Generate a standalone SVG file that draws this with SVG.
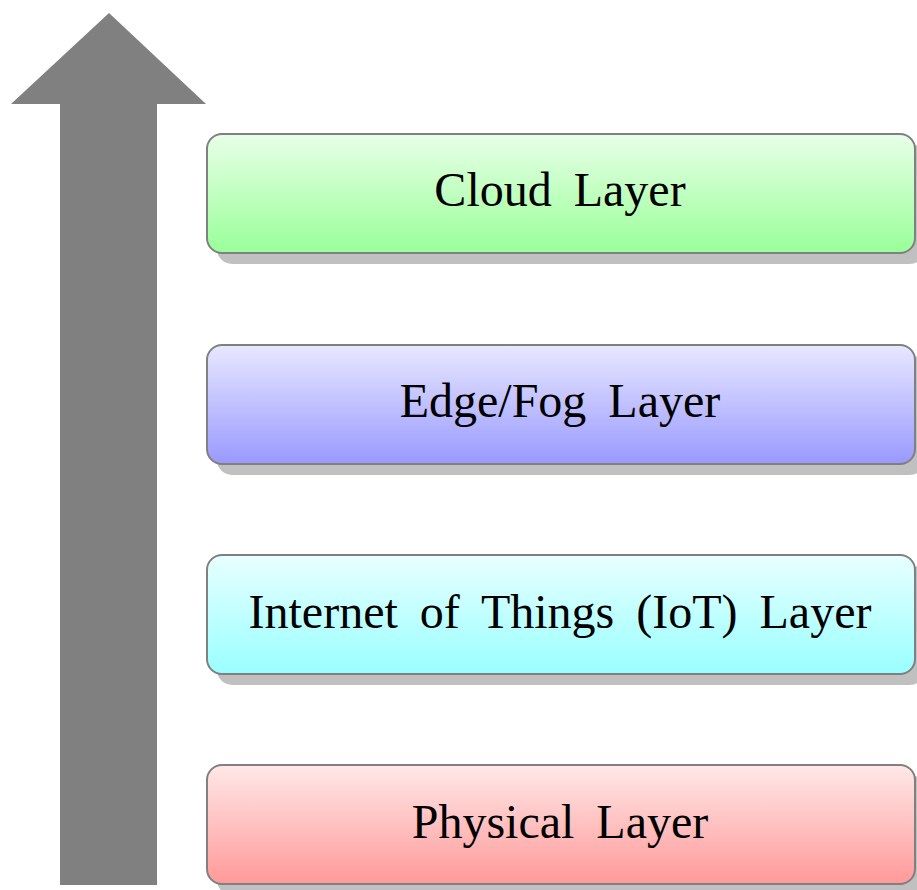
<svg xmlns="http://www.w3.org/2000/svg" width="917" height="890" viewBox="0 0 917 890">
<defs>
<linearGradient id="gGreen" x1="0" y1="0" x2="0" y2="1"><stop offset="0" stop-color="#e8ffe8"/><stop offset="1" stop-color="#99ff99"/></linearGradient>
<linearGradient id="gBlue" x1="0" y1="0" x2="0" y2="1"><stop offset="0" stop-color="#e8e8ff"/><stop offset="1" stop-color="#9999ff"/></linearGradient>
<linearGradient id="gCyan" x1="0" y1="0" x2="0" y2="1"><stop offset="0" stop-color="#e8ffff"/><stop offset="1" stop-color="#99ffff"/></linearGradient>
<linearGradient id="gRed" x1="0" y1="0" x2="0" y2="1"><stop offset="0" stop-color="#ffe8e8"/><stop offset="1" stop-color="#ff9999"/></linearGradient>
</defs>
<style>
.shadow{fill:#c0c0c0;}
.box{stroke:#808080;stroke-width:2;}
.lbl{font-family:"Liberation Serif","Times New Roman",serif;font-size:48px;fill:#000;text-anchor:middle;word-spacing:10px;}
</style>
<g id="arrow">
<polygon points="109,13 206,104 157,104 157,885 60,885 60,104 11,104" fill="#808080"/>
</g>
<g id="cloud">
<rect class="shadow" x="217" y="144" width="708" height="120" rx="15"/>
<rect class="box" x="207" y="134" width="708" height="119" rx="15" fill="url(#gGreen)"/>
<text class="lbl" x="560" y="206">Cloud Layer</text>
</g>
<g id="edgefog">
<rect class="shadow" x="217" y="355" width="708" height="120" rx="15"/>
<rect class="box" x="207" y="345" width="708" height="119" rx="15" fill="url(#gBlue)"/>
<text class="lbl" x="560" y="417">Edge/Fog Layer</text>
</g>
<g id="iot">
<rect class="shadow" x="217" y="565" width="708" height="120" rx="15"/>
<rect class="box" x="207" y="555" width="708" height="119" rx="15" fill="url(#gCyan)"/>
<text class="lbl" x="560" y="628">Internet of Things (IoT) Layer</text>
</g>
<g id="physical">
<rect class="shadow" x="217" y="775" width="708" height="120" rx="15"/>
<rect class="box" x="207" y="765" width="708" height="119" rx="15" fill="url(#gRed)"/>
<text class="lbl" x="560" y="838">Physical Layer</text>
</g>
<g id="connectors"></g>
</svg>
